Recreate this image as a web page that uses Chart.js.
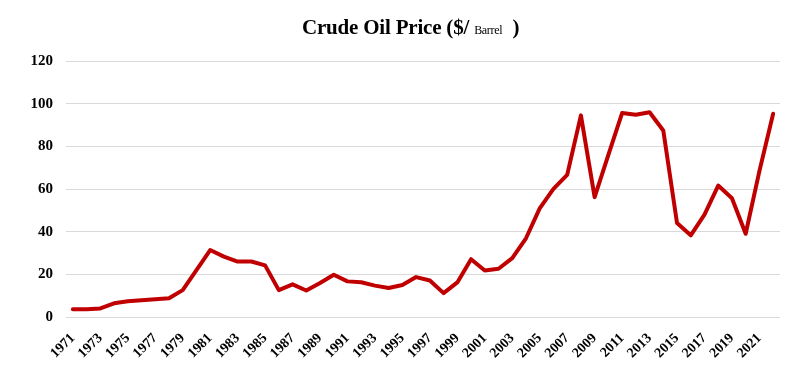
<!DOCTYPE html>
<html>
<head>
<meta charset="utf-8">
<script src="https://cdn.jsdelivr.net/npm/chart.js@4"></script>
<style>
  html, body { margin: 0; padding: 0; background: #fff; }
  #wrap { position: relative; width: 791px; height: 367px; }
  #title { position: absolute; left: 302px; top: 15px; font-family: "Liberation Serif", "Times New Roman", serif; font-weight: bold; font-size: 21px; letter-spacing: -0.2px; color: #000; white-space: pre; }
  #title .small { font-size: 12px; font-weight: normal; letter-spacing: -0.3px; }
  canvas { position: absolute; left: 0; top: 0; }
</style>
</head>
<body>
<div id="wrap">
  <canvas id="c" width="791" height="367"></canvas>
  <div id="title">Crude Oil Price ($/ <span class="small">Barrel</span>  )</div>
</div>
<script>
const years = ["1971","1972","1973","1974","1975","1976","1977","1978","1979","1980",
  "1981","1982","1983","1984","1985","1986","1987","1988","1989","1990",
  "1991","1992","1993","1994","1995","1996","1997","1998","1999","2000",
  "2001","2002","2003","2004","2005","2006","2007","2008","2009","2010",
  "2011","2012","2013","2014","2015","2016","2017","2018","2019","2020",
  "2021","2022"];
const prices = [3.6, 3.6, 4.0, 6.4, 7.4, 7.9, 8.3, 8.8, 12.6, 22.0,
  31.4, 28.3, 26.0, 26.0, 24.2, 12.6, 15.3, 12.4, 15.9, 19.8,
  16.7, 16.3, 14.7, 13.6, 15.0, 18.7, 17.1, 11.2, 16.2, 27.1,
  21.8, 22.6, 27.6, 36.9, 50.9, 60.1, 66.6, 94.5, 56.2, 76.0,
  95.6, 94.8, 96.0, 87.4, 44.1, 38.3, 48.0, 61.6, 55.7, 39.0,
  68.4, 95.3];
const yTicks = [0, 20, 40, 60, 80, 100, 120];

new Chart(document.getElementById('c'), {
  type: 'line',
  data: {
    labels: years,
    datasets: [{
      label: 'Crude Oil Price',
      data: prices,
      borderColor: '#C00000',
      borderWidth: 4,
      pointRadius: 0,
      tension: 0,
      borderJoinStyle: 'round',
      borderCapStyle: 'round',
      fill: false
    }]
  },
  options: {
    responsive: false,
    animation: false,
    layout: { padding: { top: 61, right: 11, left: 0, bottom: 0 } },
    plugins: { legend: { display: false }, title: { display: false }, tooltip: { enabled: false } },
    scales: {
      x: {
        offset: true,
        grid: { display: false },
        border: { display: false },
        afterFit: s => { s.height = 50; },
        ticks: {
          autoSkip: false,
          maxRotation: 45,
          minRotation: 45,
          padding: 5,
          color: '#000',
          font: { family: '"Liberation Serif", "Times New Roman", serif', weight: 'bold', size: 14 },
          callback: function(v, i) { return i % 2 === 0 ? years[i] : ''; }
        }
      },
      y: {
        min: yTicks[0],
        max: yTicks[yTicks.length - 1],
        afterFit: s => { s.width = 66; },
        afterBuildTicks: s => { s.ticks = yTicks.map(v => ({ value: v })); },
        grid: { color: '#D9D9D9', lineWidth: 1, drawTicks: false },
        border: { display: false },
        ticks: {
          padding: 13,
          color: '#000',
          font: { family: '"Liberation Serif", "Times New Roman", serif', weight: 'bold', size: 15 }
        }
      }
    }
  }
});
</script>
</body>
</html>
